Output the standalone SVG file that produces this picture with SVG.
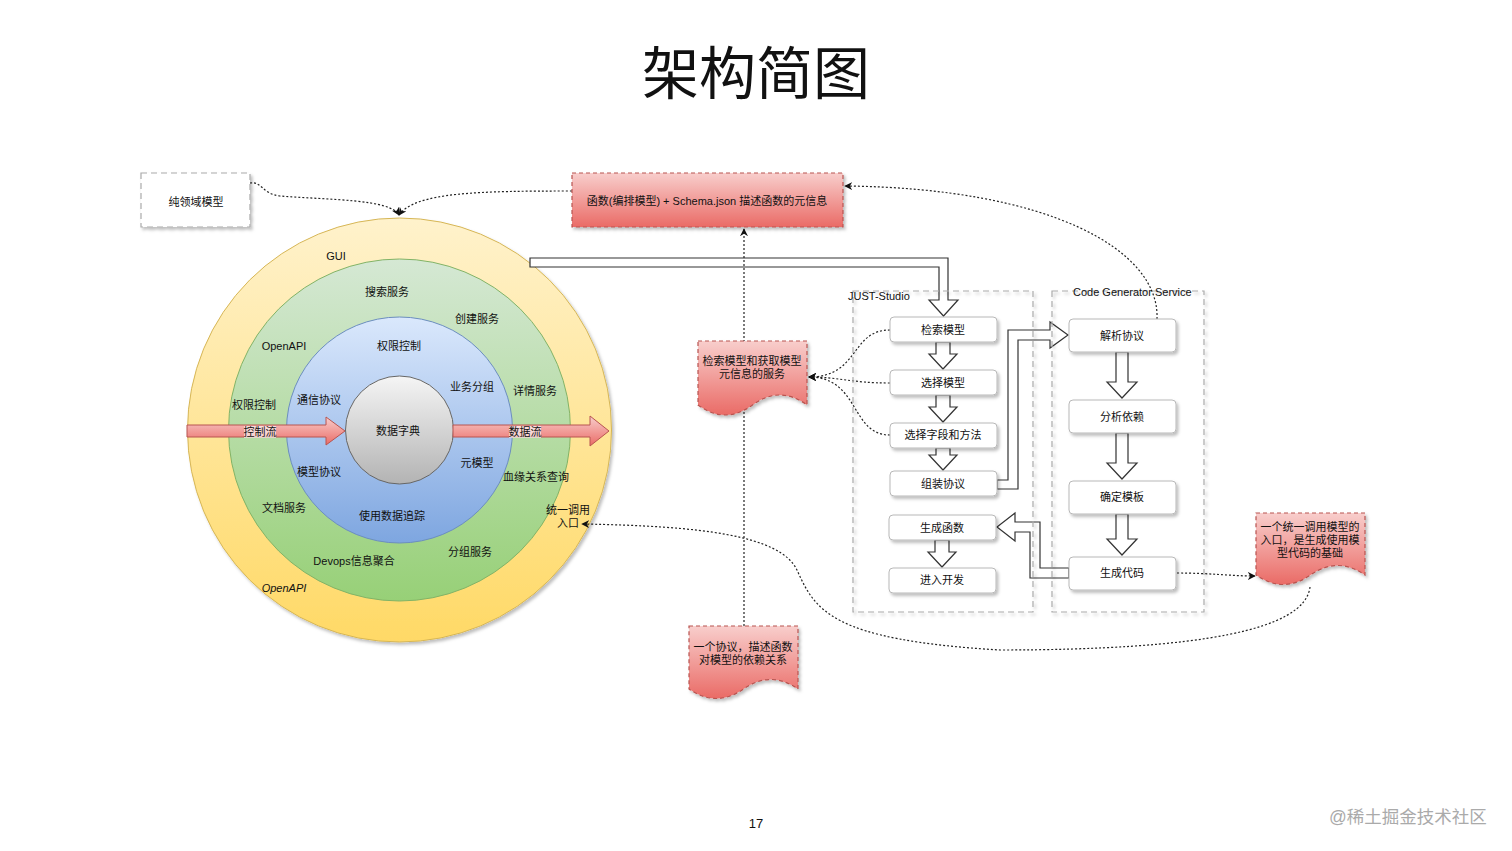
<svg xmlns="http://www.w3.org/2000/svg" width="1512" height="851" viewBox="0 0 1512 851">
<style>
text{font-family:"Liberation Sans","Noto Sans CJK SC",sans-serif;font-size:11px;fill:#111;dominant-baseline:central}
.c{text-anchor:middle}
.node{fill:#fff;stroke:#b8b8b8;stroke-width:1;filter:url(#sh)}
.grp{fill:none;stroke:#aaa;stroke-width:1.2;stroke-dasharray:6 4;filter:url(#sh)}
.note{fill:url(#gRed);stroke:#b85450;stroke-width:1.2;stroke-dasharray:4 3;filter:url(#sh)}
.blk{fill:#fff;stroke:#333;stroke-width:1.2;stroke-linejoin:miter}
.dot{fill:none;stroke:#222;stroke-width:1.2;stroke-dasharray:2 2;marker-end:url(#ah)}
.redarrow{fill:url(#gRed);stroke:#b85450;stroke-width:1}
</style>
<defs>
<linearGradient id="gY" x1="0" y1="0" x2="0" y2="1"><stop offset="0" stop-color="#fff2cc"/><stop offset="1" stop-color="#ffd966"/></linearGradient>
<linearGradient id="gG" x1="0" y1="0" x2="0" y2="1"><stop offset="0" stop-color="#d5e8d4"/><stop offset="1" stop-color="#97d077"/></linearGradient>
<linearGradient id="gB" x1="0" y1="0" x2="0" y2="1"><stop offset="0" stop-color="#dae8fc"/><stop offset="1" stop-color="#7ea6e0"/></linearGradient>
<linearGradient id="gS" x1="0" y1="0" x2="0" y2="1"><stop offset="0" stop-color="#f5f5f5"/><stop offset="1" stop-color="#b3b3b3"/></linearGradient>
<linearGradient id="gRed" x1="0" y1="0" x2="0" y2="1"><stop offset="0" stop-color="#f8cecc"/><stop offset="1" stop-color="#ea6b66"/></linearGradient>
<filter id="sh" x="-10%" y="-10%" width="130%" height="140%"><feDropShadow dx="2" dy="2.5" stdDeviation="1.5" flood-color="#000" flood-opacity="0.25"/></filter>
<marker id="ah" viewBox="0 0 10 10" refX="9" refY="5" markerWidth="8" markerHeight="8" orient="auto" markerUnits="userSpaceOnUse"><path d="M0 0 L10 5 L0 10 L3 5 Z" fill="#111"/></marker>
</defs>
<rect width="1512" height="851" fill="#fff"/>

<text x="756" y="69" class="c" style="font-size:57px;font-family:'Noto Sans CJK SC',sans-serif">架构简图</text>

<!-- rings -->
<g id="rings">
<circle cx="399.5" cy="430" r="212" fill="url(#gY)" stroke="#d6b656" stroke-width="1" filter="url(#sh)"/>
<circle cx="399.5" cy="430" r="171" fill="url(#gG)" stroke="#82b366" stroke-width="1"/>
<circle cx="399.5" cy="430" r="113" fill="url(#gB)" stroke="#6c8ebf" stroke-width="1"/>
<circle cx="399.5" cy="430" r="54" fill="url(#gS)" stroke="#666" stroke-width="1"/>
<text x="336" y="256" class="c">GUI</text>
<text x="387" y="292" class="c">搜索服务</text>
<text x="477" y="319" class="c">创建服务</text>
<text x="284" y="346" class="c">OpenAPI</text>
<text x="399" y="346" class="c">权限控制</text>
<text x="472" y="387" class="c">业务分组</text>
<text x="535" y="391" class="c">详情服务</text>
<text x="319" y="400" class="c">通信协议</text>
<text x="254" y="405" class="c">权限控制</text>
<text x="398" y="431" class="c">数据字典</text>
<text x="477" y="463" class="c">元模型</text>
<text x="319" y="472" class="c">模型协议</text>
<text x="536" y="477" class="c">血缘关系查询</text>
<text x="284" y="508" class="c">文档服务</text>
<text x="568" y="510" class="c">统一调用</text>
<text x="568" y="523" class="c">入口</text>
<text x="392" y="516" class="c">使用数据追踪</text>
<text x="470" y="552" class="c">分组服务</text>
<text x="354" y="561" class="c">Devops信息聚合</text>
<text x="284" y="588" class="c" style="font-style:italic">OpenAPI</text>
</g>

<g id="flow-arrows">
<path class="redarrow" d="M187 425 H326 V417 L345 431 L326 445 V437 H187 Z"/>
<rect x="244" y="426" width="32" height="12" fill="#fff" opacity="0.6"/>
<text x="260" y="432" class="c">控制流</text>
<path class="redarrow" d="M453 425 H590 V416 L609 431 L590 446 V437 H453 Z"/>
<rect x="509" y="426" width="32" height="12" fill="#fff" opacity="0.6"/>
<text x="525" y="432" class="c">数据流</text>
</g>

<g id="connectors">
<!-- block arrows -->
<path class="blk" d="M530 258 H948 V300 H958 L943.5 316 L929 300 H939 V267 H530 Z"/>
<path class="blk" d="M936 342 H950 V354 H957 L943 369 L929 354 H936 Z"/>
<path class="blk" d="M936 395 H950 V407 H957 L943 422 L929 407 H936 Z"/>
<path class="blk" d="M936 448 H950 V455 H957 L943 470 L929 455 H936 Z"/>
<path class="blk" d="M935 540 H949 V552 H956 L942 567 L928 552 H935 Z"/>
<path class="blk" d="M997 480 H1008 V330 H1050 V322 L1068 335 L1050 348 V340 H1018 V489 H997 Z"/>
<path class="blk" d="M1069 568 H1040 V522 H1015 V513 L997 527 L1015 541 V532 H1030 V578 H1069 Z"/>
<path class="blk" d="M1116 352 H1128 V382 H1137 L1122 398 L1107 382 H1116 Z"/>
<path class="blk" d="M1116 433 H1128 V463 H1137 L1122 479 L1107 463 H1116 Z"/>
<path class="blk" d="M1116 514 H1128 V539 H1137 L1122 555 L1107 539 H1116 Z"/>
<!-- dotted connectors -->
<path class="dot" d="M250 183 C262 181 262 194 280 196 C330 200 390 199 399 215"/>
<path class="dot" d="M572 191 C480 191 415 192 399 215"/>
<path class="dot" d="M744 626 V229"/>
<path class="dot" d="M1157 319 C1160 250 1050 188 845 186"/>
<path class="dot" d="M890 330 C850 330 860 377 809 377"/>
<path class="dot" d="M890 383 C850 383 840 377 809 377"/>
<path class="dot" d="M890 435 C850 435 860 377 809 377"/>
<path class="dot" d="M1177 573 C1210 573 1230 576 1255 576"/>
<path class="dot" d="M1310 587 C1305 630 1200 650 1000 650 C830 640 815 610 797 570 C780 535 700 526 582 524"/>
</g>

<g id="n-domain">
<rect x="141" y="173" width="109" height="54" fill="#fff" stroke="#aaa" stroke-width="1.2" stroke-dasharray="6 4" filter="url(#sh)"/>
<text x="196" y="202" class="c">纯领域模型</text>
</g>

<g id="n-func">
<rect x="572" y="173" width="271" height="54" fill="url(#gRed)" stroke="#b85450" stroke-width="1.2" stroke-dasharray="4 3" filter="url(#sh)"/>
<text x="707" y="201" class="c">函数(编排模型) + Schema.json 描述函数的元信息</text>
</g>

<g id="g-just">
<rect class="grp" x="853" y="291" width="180" height="321"/>
<text x="848" y="296">JUST-Studio</text>
</g>
<g id="g-code">
<rect class="grp" x="1052" y="291" width="152" height="321"/>
<text x="1073" y="292">Code Generator Service</text>
</g>

<g id="n1"><rect class="node" x="890" y="317" width="107" height="25" rx="4"/><text x="943" y="330" class="c">检索模型</text></g>
<g id="n2"><rect class="node" x="890" y="370" width="107" height="25" rx="4"/><text x="943" y="383" class="c">选择模型</text></g>
<g id="n3"><rect class="node" x="890" y="423" width="107" height="25" rx="4"/><text x="943" y="435" class="c">选择字段和方法</text></g>
<g id="n4"><rect class="node" x="890" y="471" width="107" height="25" rx="4"/><text x="943" y="484" class="c">组装协议</text></g>
<g id="n5"><rect class="node" x="889" y="515" width="107" height="25" rx="4"/><text x="942" y="528" class="c">生成函数</text></g>
<g id="n6"><rect class="node" x="889" y="568" width="107" height="25" rx="4"/><text x="942" y="580" class="c">进入开发</text></g>

<g id="c1"><rect class="node" x="1069" y="319" width="107" height="33" rx="4"/><text x="1122" y="336" class="c">解析协议</text></g>
<g id="c2"><rect class="node" x="1069" y="400" width="107" height="33" rx="4"/><text x="1122" y="417" class="c">分析依赖</text></g>
<g id="c3"><rect class="node" x="1069" y="481" width="107" height="33" rx="4"/><text x="1122" y="497" class="c">确定模板</text></g>
<g id="c4"><rect class="node" x="1069" y="557" width="107" height="33" rx="4"/><text x="1122" y="573" class="c">生成代码</text></g>

<g id="note-search">
<path class="note" d="M698 341 H807 V405 Q779.75 385 752.5 405 Q725.25 425 698 405 Z"/>
<text x="752" y="361" class="c">检索模型和获取模型</text>
<text x="752" y="374" class="c">元信息的服务</text>
</g>
<g id="note-protocol">
<path class="note" d="M689 626 H798 V689 Q770.75 670 743.5 689 Q716.25 708 689 689 Z"/>
<text x="743" y="647" class="c">一个协议，描述函数</text>
<text x="743" y="660" class="c">对模型的依赖关系</text>
</g>
<g id="note-entry">
<path class="note" d="M1256 513 H1365 V575 Q1337.75 556 1310.5 575 Q1283.25 594 1256 575 Z"/>
<text x="1310" y="527" class="c">一个统一调用模型的</text>
<text x="1310" y="540" class="c">入口，是生成使用模</text>
<text x="1310" y="553" class="c">型代码的基础</text>
</g>

<text x="756" y="823" class="c" style="font-size:13px">17</text>
<text x="1408" y="817" class="c" style="font-size:17.5px;fill:#aaa">@稀土掘金技术社区</text>
</svg>
